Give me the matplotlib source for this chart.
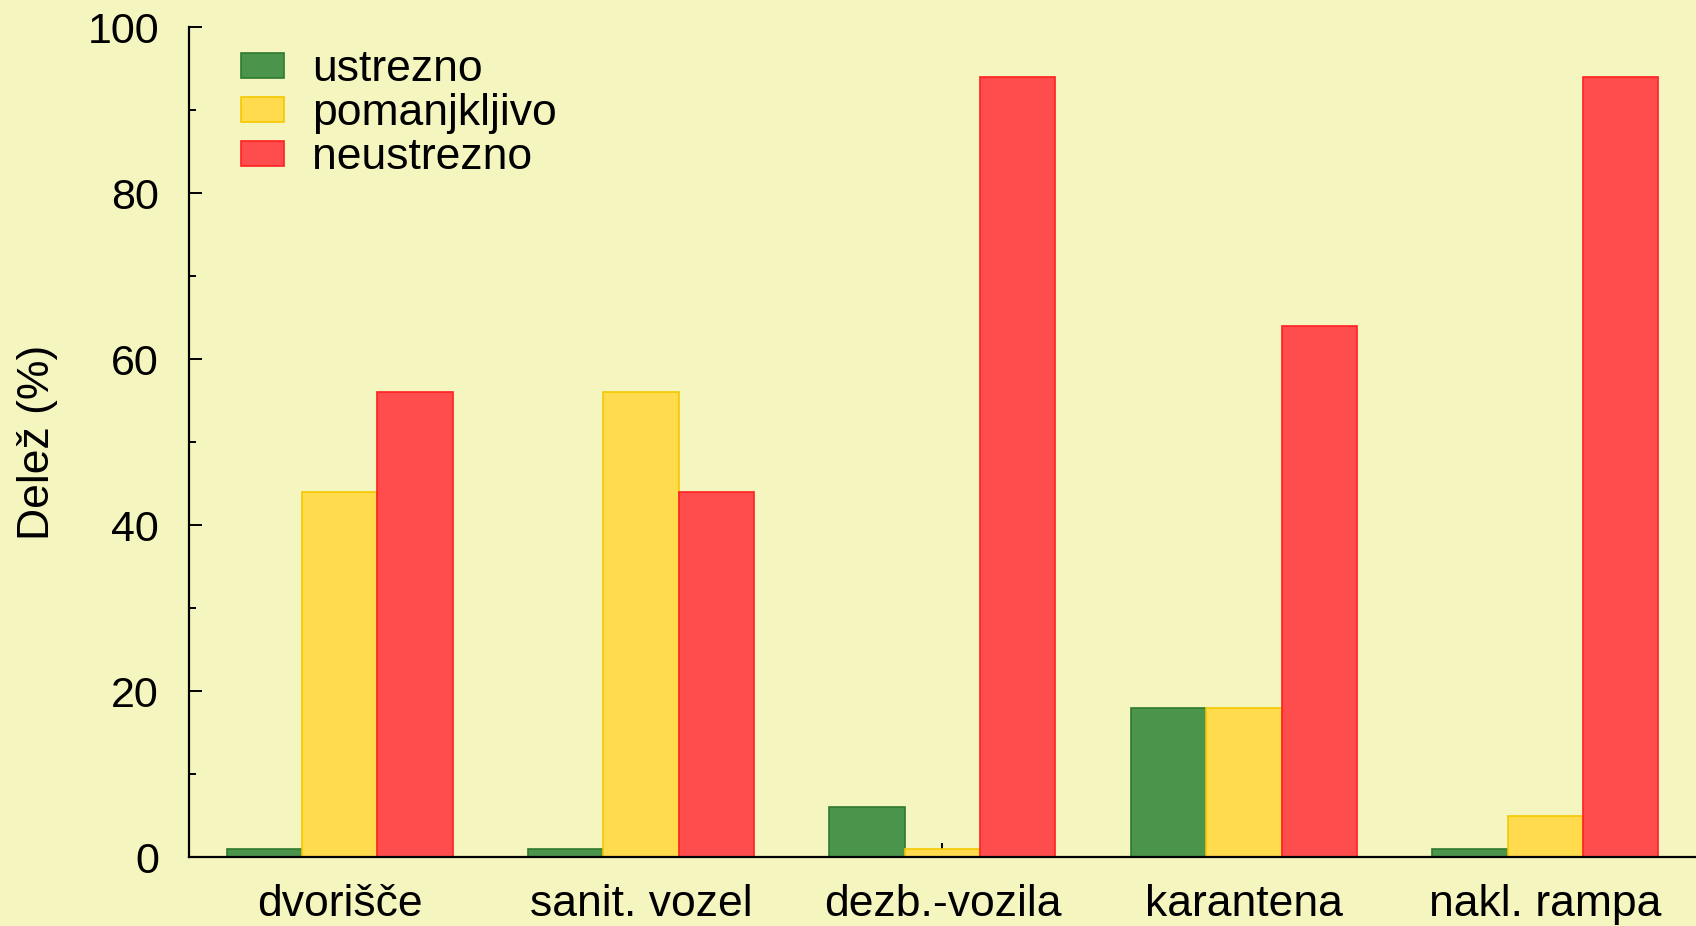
import numpy as np
import matplotlib
matplotlib.use("Agg")
import matplotlib.pyplot as plt

categories = ["dvorišče", "sanit. vozel", "dezb.-vozila", "karantena", "nakl. rampa"]
ustrezno = [1, 1, 6, 18, 1]
pomanjkljivo = [44, 56, 1, 18, 5]
neustrezno = [56, 44, 94, 64, 94]

series = [
    ("ustrezno", ustrezno, "#4b944b", "#2f7a2f"),
    ("pomanjkljivo", pomanjkljivo, "#ffdb4d", "#f5c800"),
    ("neustrezno", neustrezno, "#ff4d4d", "#ff2020"),
]

plt.rcParams["font.family"] = ["Liberation Sans", "DejaVu Sans"]
bg = "#f5f5c0"

fig = plt.figure(figsize=(16.96, 9.26), dpi=100, facecolor=bg)
ax = fig.add_axes([0.1114, 0.0745, 0.8886, 0.8963], facecolor=bg)

x = np.arange(len(categories))
w = 0.25
for i, (name, vals, fc, ec) in enumerate(series):
    ax.bar(x + (i - 1) * w, vals, w, color=fc, edgecolor=ec, linewidth=1.2, label=name)

ax.set_xlim(-0.5, 4.5)
ax.set_ylim(0, 100)
ax.set_yticks(np.arange(0, 101, 20))
ax.set_yticks(np.arange(10, 100, 20), minor=True)
ax.set_xticks(x)
ax.set_xticklabels(categories)
ax.set_axisbelow(True)  # bars cover the inward x ticks

for s in ["top", "right"]:
    ax.spines[s].set_visible(False)
for s in ["left", "bottom"]:
    ax.spines[s].set_linewidth(1.6)

ax.tick_params(axis="y", which="major", direction="in", length=9, width=1.4, pad=21.5, labelsize=31)
ax.tick_params(axis="y", which="minor", direction="in", length=5, width=1.4)
ax.tick_params(axis="x", which="major", direction="in", length=10, width=1.4, pad=19.5, labelsize=32)

ax.set_ylabel("Delež (%)", fontsize=32, labelpad=21)

ax.legend(loc="upper left", bbox_to_anchor=(0.0345, 0.973), frameon=False, fontsize=32,
          handlelength=0.97, handleheight=0.51, handletextpad=0.63, labelspacing=0.065,
          borderpad=0, borderaxespad=0)

fig.savefig("out.png", dpi=100, facecolor=bg)
